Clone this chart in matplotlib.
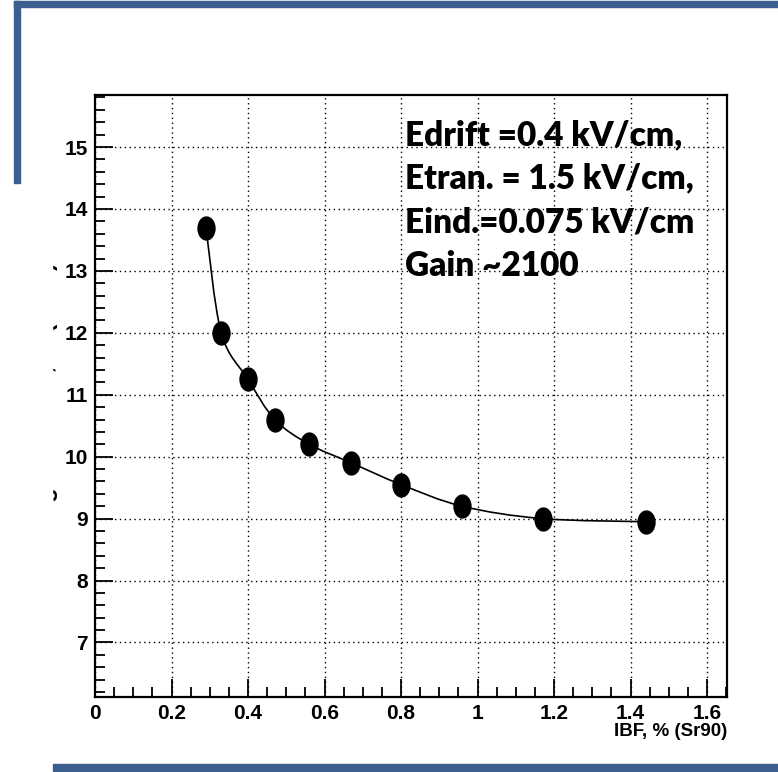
import matplotlib
matplotlib.use("Agg")
import matplotlib.pyplot as plt
from matplotlib.path import Path
from matplotlib.patches import PathPatch, Rectangle
from matplotlib.transforms import Affine2D
from matplotlib.ticker import MultipleLocator

# data
ibf = [0.29, 0.33, 0.40, 0.47, 0.56, 0.67, 0.80, 0.96, 1.17, 1.44]
resolution = [13.7, 12.0, 11.25, 10.6, 10.2, 9.9, 9.55, 9.2, 9.0, 8.95]
notes = ["Edrift =0.4 kV/cm,", "Etran. = 1.5 kV/cm,",
         "Eind.=0.075 kV/cm", "Gain ~2100"]
xlabel = "IBF, % (Sr90)"
ylabel = "Sigma / Mean, % (Fe55)"

W, H = 778, 772
blue = "#3b5f8e"
tickfont = dict(family=["Liberation Sans Narrow", "Liberation Sans", "DejaVu Sans"],
                weight="bold")

fig = plt.figure(figsize=(W / 100, H / 100), dpi=100)
ax = fig.add_axes([95 / W, 1 - 697 / H, (727 - 95) / W, (697 - 95) / H])
ax.set_xlim(0, 1.652)
ax.set_ylim(6.12, 15.84)

# smooth curve through the points (catmull-rom as bezier segments)
pts = list(zip(ibf, resolution))
verts = [pts[0]]
codes = [Path.MOVETO]
for i in range(len(pts) - 1):
    p0 = pts[i - 1] if i > 0 else pts[i]
    p1, p2 = pts[i], pts[i + 1]
    p3 = pts[i + 2] if i + 2 < len(pts) else pts[i + 1]
    c1 = (p1[0] + (p2[0] - p0[0]) / 6, p1[1] + (p2[1] - p0[1]) / 6)
    c2 = (p2[0] - (p3[0] - p1[0]) / 6, p2[1] - (p3[1] - p1[1]) / 6)
    verts += [c1, c2, p2]
    codes += [Path.CURVE4] * 3
ax.add_patch(PathPatch(Path(verts, codes), fill=False, lw=1.2, color="black", zorder=3))

# slightly tall dots as in the picture
dot = Path.unit_circle().transformed(Affine2D().scale(0.74, 1.0))
ax.plot(ibf, resolution, ls="none", marker=dot, ms=16.5, color="black", zorder=4)

ax.xaxis.set_minor_locator(MultipleLocator(0.05))
ax.yaxis.set_minor_locator(MultipleLocator(0.2))
ax.set_xticks([0, 0.2, 0.4, 0.6, 0.8, 1.0, 1.2, 1.4, 1.6],
              ["0", "0.2", "0.4", "0.6", "0.8", "1", "1.2", "1.4", "1.6"])
ax.set_yticks(range(7, 16))
ax.tick_params(which="both", direction="in", top=False, right=False, width=1.3)
ax.tick_params(which="major", length=13, pad=5)
ax.tick_params(which="minor", length=7)
for lab in ax.get_xticklabels() + ax.get_yticklabels():
    lab.set_fontfamily(tickfont["family"])
    lab.set_fontweight("bold")
    lab.set_fontsize(15)
ax.grid(True, which="major", ls=(0, (1, 2.5)), lw=1.0, color="black")
for s in ax.spines.values():
    s.set_linewidth(1.6)

ax.text(1.0, -0.043, xlabel, transform=ax.transAxes, ha="right", va="top",
        fontsize=13.5, **tickfont)

for i, line in enumerate(notes):
    ax.text(405 / W, 1 - (135 + 43.5 * i) / H, line, transform=fig.transFigure,
            ha="left", va="center", fontsize=24, fontweight="heavy",
            family=["Lato", "Open Sans", "DejaVu Sans"])

# y title, mostly hidden behind a white box like the original
fig.text(47 / W, 1 - 393 / H, ylabel, rotation=90, ha="center", va="center",
         fontsize=17, **tickfont)
fig.add_artist(Rectangle((22 / W, 1 - 560 / H), 30 / W, 330 / H,
                         transform=fig.transFigure, color="white", zorder=5))

# blue slide frame
for x0, y0, x1, y1 in [(14, 1, 778, 7), (14, 1, 20, 183), (53, 764, 778, 771)]:
    fig.add_artist(Rectangle((x0 / W, 1 - y1 / H), (x1 - x0) / W, (y1 - y0) / H,
                             transform=fig.transFigure, color=blue, zorder=6))

fig.savefig("out.png", dpi=100)
